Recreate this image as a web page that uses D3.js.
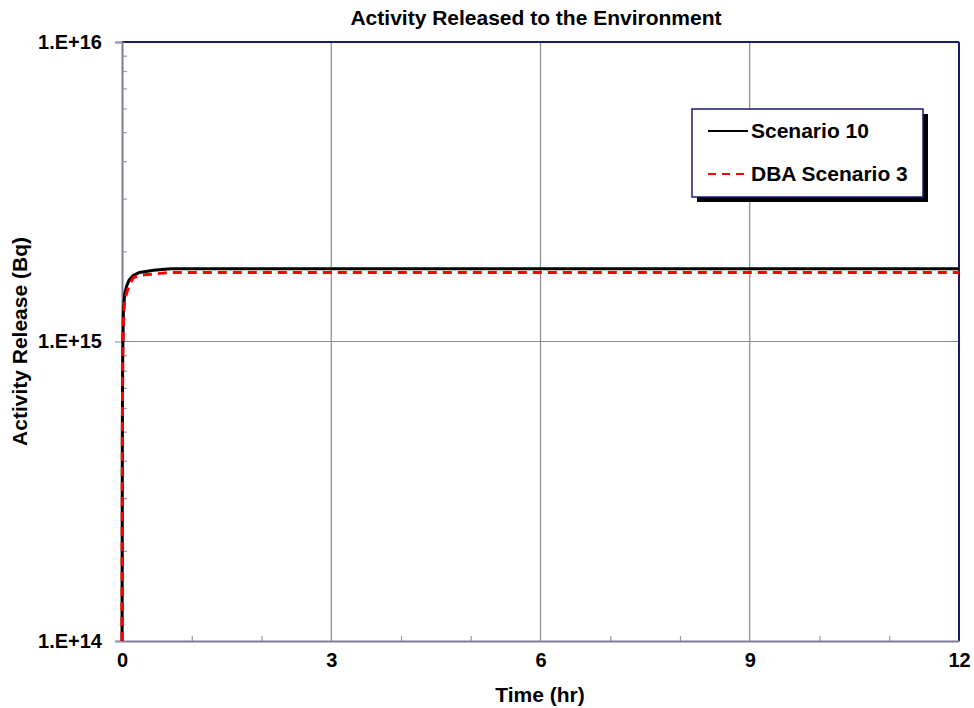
<!DOCTYPE html>
<html>
<head>
<meta charset="utf-8">
<script src="https://cdn.jsdelivr.net/npm/d3@7"></script>
<style>
  body { margin: 0; background: #fff; }
  text { font-family: Arial, "Liberation Sans", sans-serif; font-weight: bold; fill: #000; }
</style>
</head>
<body>
<div id="chart"></div>
<script>
// values (time in hr, activity in Bq)
var timeHr     = [0, 0.005, 0.01, 0.02, 0.04, 0.07, 0.1, 0.16, 0.25, 0.32, 0.45, 0.7, 1, 3, 6, 9, 12];
var scenario10 = [1e14, 5e14, 9e14, 1.27e15, 1.45e15, 1.54e15, 1.6e15, 1.66e15, 1.7e15, 1.71e15, 1.73e15, 1.75e15, 1.75e15, 1.75e15, 1.75e15, 1.75e15, 1.75e15];
var dbaScen3   = [1e14, 4.8e14, 8.6e14, 1.2e15, 1.38e15, 1.46e15, 1.53e15, 1.63e15, 1.66e15, 1.67e15, 1.68e15, 1.7e15, 1.7e15, 1.7e15, 1.7e15, 1.7e15, 1.7e15];
var xTicks = [0, 3, 6, 9, 12];
var yTicks = [1e14, 1e15, 1e16];
var yTickLabels = ["1.E+14", "1.E+15", "1.E+16"];
var seriesNames = ["Scenario 10", "DBA Scenario 3"];

var width = 974, height = 708;
var plotL = 122, plotR = 959, plotT = 42, plotB = 641;

var svg = d3.select("#chart").append("svg")
  .attr("width", width)
  .attr("height", height);

var x = d3.scaleLinear().domain([0, 12]).range([plotL, plotR]);
var y = d3.scaleLog().domain([1e14, 1e16]).range([plotB, plotT]);

// gridlines
svg.append("g").selectAll("line")
  .data(xTicks.slice(1, -1))
  .enter().append("line")
    .attr("x1", d => x(d)).attr("x2", d => x(d))
    .attr("y1", plotT).attr("y2", plotB)
    .attr("stroke", "#8c8c8c").attr("stroke-width", 1.2);
svg.append("g").selectAll("line")
  .data(yTicks.slice(1, -1))
  .enter().append("line")
    .attr("x1", plotL).attr("x2", plotR)
    .attr("y1", d => y(d)).attr("y2", d => y(d))
    .attr("stroke", "#8c8c8c").attr("stroke-width", 1.2);

// plot border (top / right are navy)
svg.append("line").attr("x1", plotL).attr("x2", plotR).attr("y1", plotT).attr("y2", plotT)
  .attr("stroke", "#1a1a6e").attr("stroke-width", 2);
svg.append("line").attr("x1", plotR).attr("x2", plotR).attr("y1", plotT).attr("y2", plotB)
  .attr("stroke", "#1a1a6e").attr("stroke-width", 2);

// minor ticks
var yMinor = [];
[1e14, 1e15].forEach(function(dec) { for (var k = 2; k <= 9; k++) yMinor.push(dec * k); });
var xMinor = d3.range(0, 13).filter(d => xTicks.indexOf(d) < 0);

var axisCol = "#7c7c98";
var yAxisMinor = svg.append("g")
  .attr("transform", "translate(" + plotL + ",0)")
  .call(d3.axisRight(y).tickValues(yMinor).tickSize(5).tickFormat(""));
var xAxisMinor = svg.append("g")
  .attr("transform", "translate(0," + plotB + ")")
  .call(d3.axisTop(x).tickValues(xMinor).tickSize(5).tickFormat(""));

var yAxis = svg.append("g")
  .attr("transform", "translate(" + plotL + ",0)")
  .call(d3.axisLeft(y).tickValues(yTicks).tickSize(7).tickPadding(13)
    .tickFormat((d, i) => yTickLabels[i]));
var xAxis = svg.append("g")
  .attr("transform", "translate(0," + plotB + ")")
  .call(d3.axisBottom(x).tickValues(xTicks).tickSize(0).tickPadding(12).tickFormat(d3.format("d")));

[yAxisMinor, xAxisMinor, yAxis, xAxis].forEach(function(a) {
  a.select(".domain").attr("stroke", axisCol).attr("stroke-width", 2);
  a.selectAll(".tick line").attr("stroke", "#9a9aa8").attr("stroke-width", 1.2);
});
yAxisMinor.select(".domain").remove();
xAxisMinor.select(".domain").remove();
yAxis.selectAll("text").attr("font-size", 20).style("font-family", "Arial, 'Liberation Sans', sans-serif").attr("font-weight", "bold");
xAxis.selectAll("text").attr("font-size", 20).style("font-family", "Arial, 'Liberation Sans', sans-serif").attr("font-weight", "bold");

// lines
var line10 = d3.line().x((d, i) => x(timeHr[i])).y(d => y(d));
svg.append("path")
  .datum(scenario10)
  .attr("d", line10)
  .attr("fill", "none")
  .attr("stroke", "#000")
  .attr("stroke-width", 3);
svg.append("path")
  .datum(dbaScen3)
  .attr("d", line10)
  .attr("fill", "none")
  .attr("stroke", "#ff0000")
  .attr("stroke-width", 3)
  .attr("stroke-dasharray", "9,6");

// title & axis labels
svg.append("text").attr("x", 536).attr("y", 25).attr("text-anchor", "middle")
  .attr("font-size", 21).text("Activity Released to the Environment");
svg.append("text").attr("x", 540).attr("y", 702).attr("text-anchor", "middle")
  .attr("font-size", 21).text("Time (hr)");
svg.append("text")
  .attr("transform", "translate(27," + ((plotT + plotB) / 2) + ") rotate(-90)")
  .attr("text-anchor", "middle")
  .attr("font-size", 21).text("Activity Release (Bq)");

// legend
var lg = svg.append("g").attr("transform", "translate(692,109)");
lg.append("rect").attr("x", 5).attr("y", 5).attr("width", 231).attr("height", 88).attr("fill", "#000");
lg.append("rect").attr("width", 231).attr("height", 88).attr("fill", "#fff")
  .attr("stroke", "#1a1a6e").attr("stroke-width", 1.5);
var items = lg.selectAll(".item").data(seriesNames).enter().append("g")
  .attr("transform", (d, i) => "translate(0," + (22 + i * 43) + ")");
items.append("line").attr("x1", 16).attr("x2", 56).attr("y1", 0).attr("y2", 0)
  .attr("stroke", (d, i) => i ? "#ff0000" : "#000")
  .attr("stroke-width", 2)
  .attr("stroke-dasharray", (d, i) => i ? "8,6" : null);
items.append("text").attr("x", 59).attr("y", 7).attr("font-size", 21).text(d => d);
</script>
</body>
</html>
